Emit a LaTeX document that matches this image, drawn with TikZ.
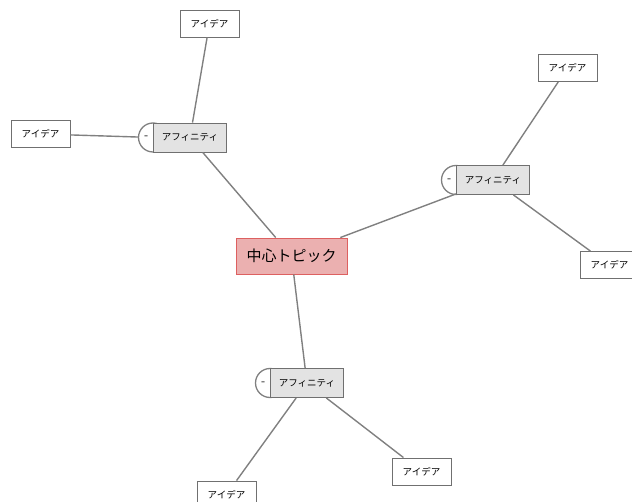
\documentclass[tikz,border=0pt]{standalone}
\usepackage{fontspec}
\newfontfamily\jpfont{Noto Sans CJK JP}
\newfontfamily\dejafont{DejaVu Sans}
\usetikzlibrary{positioning}
\definecolor{linegray}{HTML}{808080}
\definecolor{boxgray}{HTML}{707070}
\definecolor{affill}{HTML}{E3E3E3}
\definecolor{topicfill}{HTML}{EBB0B0}
\definecolor{topicline}{HTML}{DD6060}

\begin{document}
\begin{tikzpicture}[x=1pt,y=-1pt,
	idea/.style={draw=boxgray, fill=white, line width=0.9pt, minimum width=59pt, minimum height=27pt, inner sep=0pt, font=\jpfont\fontsize{9.5}{10}\selectfont},
	affinity/.style={draw=boxgray, fill=affill, line width=0.9pt, minimum width=73pt, minimum height=29pt, inner sep=0pt, font=\jpfont\fontsize{9.5}{10}\selectfont},
	knob/.style={circle, draw=linegray, fill=white, line width=1.3pt, minimum size=29pt, inner sep=0pt},
	minus/.style={font=\dejafont\bfseries\fontsize{8}{8}\selectfont, text=black!70, inner sep=0pt},
	topic/.style={draw=topicline, fill=topicfill, line width=0.9pt, minimum width=111pt, minimum height=36pt, inner sep=0pt, font=\jpfont\fontsize{15}{16}\selectfont},
	link/.style={draw=linegray, line width=1.4pt}]
		\useasboundingbox (0,0) rectangle (632,502);
		\clip (0,0) rectangle (632,502);
		
		% central topic
		\node[topic] (center) at (291.5,256) {中心トピック};
		
		% affinities with collapse knobs
		\node[knob] (knob1) at (153,137.5) {};
		\node[affinity, right=0pt of knob1.center] (aff1) {アフィニティ};
		\node[minus] (minus1) at ([xshift=-7pt]knob1.center) {–};
		
		\node[knob] (knob2) at (456,180) {};
		\node[affinity, right=0pt of knob2.center] (aff2) {アフィニティ};
		\node[minus] (minus2) at ([xshift=-7pt]knob2.center) {–};
		
		\node[knob] (knob3) at (270,383) {};
		\node[affinity, right=0pt of knob3.center] (aff3) {アフィニティ};
		\node[minus] (minus3) at ([xshift=-7pt]knob3.center) {–};
		
		% ideas
		\node[idea] (idea1) at (209.5,23.5) {アイデア};
		\node[idea] (idea2) at (40.5,134) {アイデア};
		\node[idea] (idea3) at (567.5,68) {アイデア};
		\node[idea] (idea4) at (609.5,265) {アイデア};
		\node[idea] (idea5) at (421.5,471.5) {アイデア};
		\node[idea] (idea6) at (226.5,494.5) {アイデア};
		
		% connectors
		\draw[link] (center) -- (aff1);
		\draw[link] (center) -- (aff2);
		\draw[link] (center) -- (aff3);
		\draw[link] (aff1) -- (idea1);
		\draw[link] (knob1) -- (idea2);
		\draw[link] (aff2) -- (idea3);
		\draw[link] (aff2) -- (idea4);
		\draw[link] (aff3) -- (idea5);
		\draw[link] (aff3) -- (idea6);
		
	\end{tikzpicture}
\end{document}
